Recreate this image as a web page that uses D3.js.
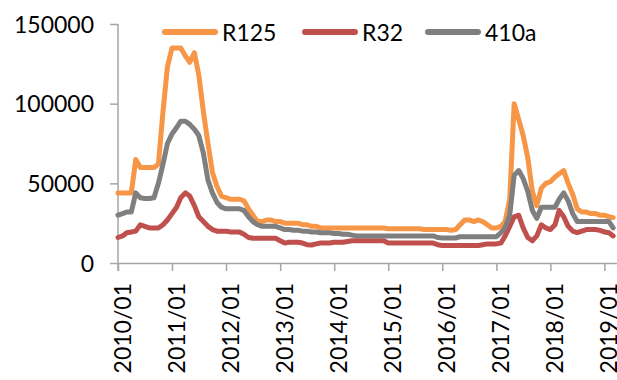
<!DOCTYPE html>
<html>
<head>
<meta charset="utf-8">
<script src="https://cdn.jsdelivr.net/npm/d3@7/dist/d3.min.js"></script>
<style>
  html, body { margin: 0; padding: 0; background: #fff; }
  svg { display: block; }
  text { font-family: Lato, "Open Sans", sans-serif; fill: #000; }
</style>
</head>
<body>
<svg id="chart" width="617" height="380"></svg>
<script>
// Monthly refrigerant prices, 2010/01 – 2019/03
const firstMonth = new Date(2010, 0, 1);
const seriesNames = ["R125", "R32", "410a"];
const seriesColors = ["#F79646", "#C0504D", "#7F7F7F"];

const r125 = [
  44000, 44000, 44000, 44000, 65000, 60000, 60000, 60000, 60000, 62000,
  95000, 123000, 135000, 135000, 135000, 130000, 126000, 132000, 118000, 95000,
  75000, 57000, 48000, 42000, 41000, 40000, 40000, 40000, 39000, 34000,
  30000, 26000, 26000, 27000, 27000, 26000, 26000, 25000, 25000, 25000,
  25000, 24000, 24000, 23000, 23000, 22000, 22000, 22000, 22000, 22000,
  22000, 22000, 22000, 22000, 22000, 22000, 22000, 22000, 22000, 22000,
  21500, 21500, 21500, 21500, 21500, 21500, 21500, 21500, 21000, 21000,
  21000, 21000, 21000, 21000, 20500, 21000, 24000, 27000, 27000, 26000,
  27000, 26000, 24000, 22000, 22000, 23000, 26000, 40000, 100000, 90000,
  80000, 66000, 45000, 36000, 47000, 50000, 51000, 54000, 56000, 58000,
  50000, 43000, 34000, 32000, 32000, 31000, 31000, 30000, 30000, 29000,
  28500
];

const r32 = [
  16000, 17000, 19000, 19500, 20000, 24000, 23000, 22000, 22000, 22000,
  24000, 27000, 31000, 35000, 41000, 44000, 42000, 36000, 29000, 26000,
  23000, 21000, 20000, 20000, 20000, 19500, 19500, 19500, 18000, 16000,
  15500, 15500, 15500, 15500, 15500, 15500, 14000, 12500, 13000, 13000,
  13000, 12500, 11500, 11300, 12000, 12500, 12500, 12500, 13000, 13000,
  13000, 13500, 14000, 14000, 14000, 14000, 14000, 14000, 14000, 14000,
  12500, 12500, 12500, 12500, 12500, 12500, 12500, 12500, 12500, 12500,
  12500, 11500, 11000, 11000, 11000, 11000, 11000, 11000, 11000, 11000,
  11000, 11500, 12000, 12000, 12000, 12500, 17000, 23000, 29000, 30000,
  22000, 16000, 14000, 17000, 24000, 22000, 21000, 24000, 33000, 29000,
  23000, 20000, 19000, 20000, 21000, 21000, 21000, 20500, 19500, 19000,
  17000
];

const r410a = [
  30000, 31000, 32000, 32000, 44000, 41000, 40500, 40500, 41000, 50000,
  62000, 75000, 81000, 85000, 89000, 89000, 87000, 84000, 80000, 69000,
  52000, 44000, 38000, 35000, 34000, 34000, 34000, 34000, 33000, 29000,
  26000, 24000, 23000, 23000, 23000, 23000, 22000, 21000, 21000, 20500,
  20500, 20000, 20000, 19500, 19500, 19000, 19000, 19000, 18500, 18500,
  18000, 18000, 17500, 17000, 17000, 17000, 17000, 17000, 17000, 17000,
  17000, 17000, 17000, 17000, 17000, 17000, 17000, 17000, 17000, 17000,
  17000, 16000, 15700, 15700, 15700, 15700, 16500, 16500, 16500, 16500,
  16500, 16500, 16500, 16500, 16500, 19000, 22000, 30000, 55000, 58000,
  53000, 45000, 33000, 28000, 35000, 35000, 35000, 35000, 40000, 44000,
  39000, 31000, 26000, 26000, 26000, 26000, 26000, 26000, 26000, 26000,
  22000
];

const yTicks = [0, 50000, 100000, 150000];

const months = d3.timeMonth.range(firstMonth, d3.timeMonth.offset(firstMonth, r125.length));
const seriesValues = [r125, r32, r410a];

const svg = d3.select("#chart");
const axisColor = "#A6A6A6";

const x = d3.scaleTime()
  .domain([firstMonth, new Date(2019, 2, 27)])
  .range([118, 617]);
const y = d3.scaleLinear()
  .domain([0, 150000])
  .range([263, 24]);

// y axis
const yAxis = svg.append("g")
  .attr("transform", "translate(118,0)")
  .call(d3.axisLeft(y).tickValues(yTicks).tickSize(8).tickSizeOuter(0).tickPadding(16).tickFormat(d3.format("d")));
yAxis.select(".domain").attr("d", "M0,24V271");
yAxis.selectAll("line, path").attr("stroke", axisColor).attr("stroke-width", 1.5);
yAxis.selectAll("text").attr("font-size", 23).attr("font-family", "Lato").attr("fill", "#000").attr("dy", "0.36em");

// x axis
const xAxis = svg.append("g")
  .attr("transform", "translate(0,263)")
  .call(d3.axisBottom(x).ticks(d3.timeYear.every(1)).tickSize(8).tickSizeOuter(0).tickFormat(d3.timeFormat("%Y/%m")));
xAxis.selectAll("line, path").attr("stroke", axisColor).attr("stroke-width", 1.5);
xAxis.selectAll("text")
  .attr("font-size", 23)
  .attr("font-family", "Lato")
  .attr("fill", "#000")
  .attr("text-anchor", "end")
  .attr("dy", null)
  .attr("transform", "translate(0,20) rotate(-90)")
  .attr("x", 0)
  .attr("y", 12);

// series lines
const line = d3.line()
  .x((d, i) => x(months[i]))
  .y(d => y(d));

svg.append("g")
  .selectAll("path")
  .data(seriesValues)
  .join("path")
  .attr("d", line)
  .attr("fill", "none")
  .attr("stroke", (d, i) => seriesColors[i])
  .attr("stroke-width", 5)
  .attr("stroke-linejoin", "round")
  .attr("stroke-linecap", "round");

// legend
const legendX = [165, 305, 428];
const legend = svg.append("g")
  .selectAll("g")
  .data(seriesNames)
  .join("g")
  .attr("transform", (d, i) => `translate(${legendX[i]},32)`);
legend.append("line")
  .attr("x1", 0).attr("x2", 50)
  .attr("y1", 0).attr("y2", 0)
  .attr("stroke", (d, i) => seriesColors[i])
  .attr("stroke-width", 6)
  .attr("stroke-linecap", "round");
legend.append("text")
  .attr("x", 57)
  .attr("y", 8.5)
  .attr("font-size", 23)
  .text(d => d);
</script>
</body>
</html>
